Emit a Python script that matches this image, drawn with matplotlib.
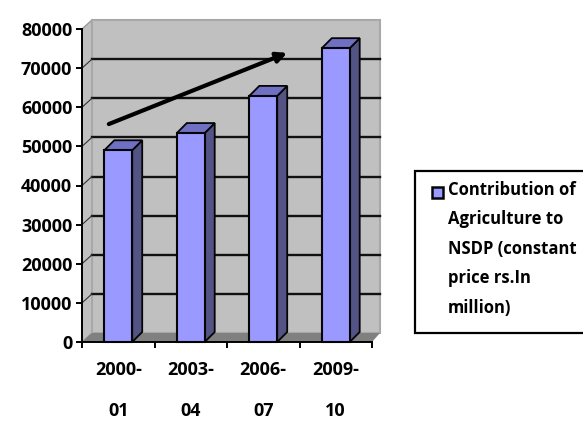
import matplotlib
matplotlib.use("Agg")
import matplotlib.pyplot as plt
from matplotlib.patches import Polygon, Rectangle

categories = ["2000-\n\n01", "2003-\n\n04", "2006-\n\n07", "2009-\n\n10"]
values = [49000, 53400, 62900, 75100]
y_ticks = [0, 10000, 20000, 30000, 40000, 50000, 60000, 70000, 80000]
series_label = "Contribution of\nAgriculture to\nNSDP (constant\nprice rs.In\nmillion)"
arrow_start = (-0.13, 55700)
arrow_end = (2.33, 73900)

plt.rcParams['font.family'] = ['Open Sans', 'DejaVu Sans']
W, H = 583, 421
fig = plt.figure(figsize=(W / 100, H / 100), dpi=100, facecolor='white')
ax = fig.add_axes([82 / W, 1 - 342 / H, 290 / W, 313 / H])
ax.set_xlim(-0.5, 3.5)
ax.set_ylim(0, 80000)
ax.patch.set_visible(False)

dx, dy = 10 / 72.5, 10 / 313 * 80000
wall_dx_r = 8 / 72.5
wall_dy = 9 / 313 * 80000
bw = 0.385
x0, x1 = -0.5, 3.5
top = y_ticks[-1]
common = dict(clip_on=False)

# walls and floor
ax.add_patch(Polygon([(x0, 0), (x0 + dx, wall_dy), (x0 + dx, top + wall_dy), (x0, top)],
                     fc='#c0c0c0', ec='#9a9a9a', lw=1, zorder=1, **common))
ax.add_patch(Polygon([(x0 + dx, wall_dy), (x1 + wall_dx_r, wall_dy), (x1 + wall_dx_r, top + wall_dy), (x0 + dx, top + wall_dy)],
                     fc='#c0c0c0', ec='#a8a8a8', lw=1.5, zorder=1, **common))
ax.add_patch(Polygon([(x0, 0), (x1, 0), (x1 + wall_dx_r, wall_dy), (x0 + dx, wall_dy)],
                     fc='#808080', ec='none', zorder=1.5, **common))

# gridlines on back wall, with links across the side wall
for v in y_ticks[1:-1]:
    ax.plot([x0 + dx, x1 + wall_dx_r], [v + wall_dy, v + wall_dy], color='#111111', lw=1.7, zorder=2, **common)
    ax.plot([x0, x0 + dx], [v, v + wall_dy], color='#333333', lw=0.8, zorder=2, **common)

# 3D bars
for i, v in enumerate(values):
    l, r = i - bw / 2, i + bw / 2
    ax.add_patch(Polygon([(r, 0), (r + dx, dy), (r + dx, v + dy), (r, v)],
                         fc='#535385', ec='#050505', lw=1.3, zorder=3, **common))
    ax.add_patch(Polygon([(l, v), (r, v), (r + dx, v + dy), (l + dx, v + dy)],
                         fc='#6f6fc4', ec='#050505', lw=1.3, zorder=3, **common))
ax.bar(range(len(values)), values, width=bw, color='#9999ff', edgecolor='#050505',
       linewidth=1.5, zorder=4, label=series_label, clip_on=False)

# trend arrow
ax.annotate("", xy=arrow_end, xytext=arrow_start, zorder=6, annotation_clip=False,
            arrowprops=dict(arrowstyle='-|>', color='black', lw=3, mutation_scale=15,
                            shrinkA=0, shrinkB=0))

# axes
for s in ('top', 'right'):
    ax.spines[s].set_visible(False)
for s in ('left', 'bottom'):
    ax.spines[s].set_linewidth(1.4)
    ax.spines[s].set_color('black')
    ax.spines[s].set_zorder(5)
ax.set_yticks(y_ticks)
ax.set_yticklabels([str(v) for v in y_ticks], fontsize=13, fontweight='bold')
ax.tick_params(axis='y', length=4, width=1.4, pad=3)
ax.set_xticks([-0.5, 0.5, 1.5, 2.5, 3.5])
ax.set_xticklabels([])
ax.tick_params(axis='x', which='major', length=4, width=1.4)
ax.set_xticks(range(len(categories)), minor=True)
ax.set_xticklabels(categories, minor=True, fontsize=13, fontweight='bold', linespacing=1.15)
ax.tick_params(axis='x', which='minor', length=0, pad=14)

# legend
fig.add_artist(Rectangle((415 / W, 1 - 333 / H), 175 / W, 162 / H, transform=fig.transFigure,
                         fc='white', ec='black', lw=1.6))
h, lab = ax.get_legend_handles_labels()
leg = fig.legend(h, lab, loc='upper left', bbox_to_anchor=(432 / W, 1 - 181 / H),
                 frameon=False, fontsize=12, borderpad=0, borderaxespad=0,
                 handlelength=0.65, handleheight=0.65, handletextpad=0.3)
for t in leg.get_texts():
    t.set_fontweight('bold')
    t.set_linespacing(1.82)
hd = leg.legend_handles[0]
hd.set_y(hd.get_y() + 2 * 29 * 0.72)
hd.set_linewidth(1.8)
hd.set_clip_on(False)
fig.savefig("out.png", dpi=100, facecolor='white')
